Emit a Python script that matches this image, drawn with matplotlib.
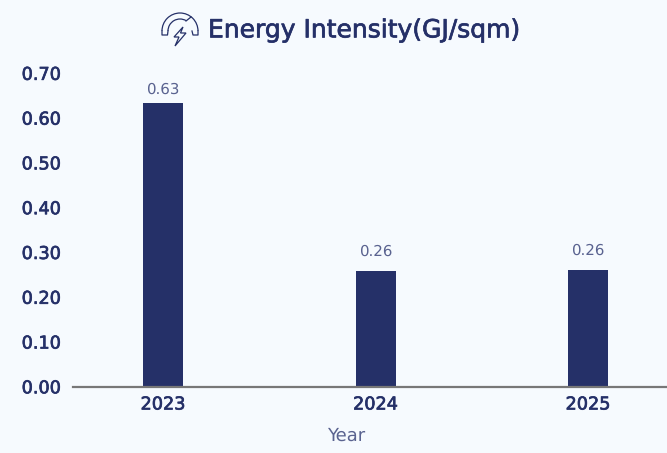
import matplotlib
matplotlib.use("Agg")
import matplotlib.pyplot as plt
import matplotlib.patheffects as pe
from matplotlib.patches import Arc, Polygon

years = ["2023", "2024", "2025"]
intensity = [0.633, 0.258, 0.26]
bar_labels = ["0.63", "0.26", "0.26"]
label_gaps = [4.5, 9, 8.5]
y_ticks = [0.0, 0.1, 0.2, 0.3, 0.4, 0.5, 0.6, 0.7]
title = "Energy Intensity(GJ/sqm)"
x_label = "Year"

NAVY = "#253068"
SOFT = "#5A6390"
BG = "#F6FAFE"
W, H = 667, 453
plt.rcParams["font.family"] = ["DejaVu Sans"]
plt.rcParams["text.hinting"] = "none"
heavy = [pe.withStroke(linewidth=0.5, foreground=NAVY)]

fig = plt.figure(figsize=(W / 100, H / 100), dpi=100, facecolor=BG)
ax = fig.add_axes([73 / W, 1 - 386.5 / H, (W - 73) / W, (386.5 - 73) / H], facecolor=BG)
xs = list(range(len(years)))
ax.bar(xs, intensity, width=40 / 212.5, color=NAVY, zorder=2)
ax.set_xlim(-90 / 212.5, 2 + 79 / 212.5)
ax.set_ylim(0, 0.7)
for s in ["top", "right", "left"]:
    ax.spines[s].set_visible(False)
ax.spines["bottom"].set_color("#777777")
ax.spines["bottom"].set_linewidth(1.6)
ax.spines["bottom"].set_zorder(3)
ax.tick_params(length=0)
ax.set_xticks(xs, years, fontsize=12.7, color=NAVY)
ax.set_yticks(y_ticks, [f"{v:.2f}" for v in y_ticks], fontsize=12.7, color=NAVY)
for t in ax.get_xticklabels() + ax.get_yticklabels():
    t.set_path_effects(heavy)
    t.set_y(t.get_position()[1])
ax.tick_params(axis="x", pad=6.7)
ax.tick_params(axis="y", pad=8.7)
for x, v, lab, gap in zip(xs, intensity, bar_labels, label_gaps):
    ax.annotate(lab, (x, v), xytext=(0, gap), textcoords="offset points", ha="center", va="bottom",
                fontsize=10.8, color=SOFT)
fig.text(346 / W, 1 - 436 / H, x_label, ha="center", va="center", fontsize=13, color=SOFT)
ttl = fig.text(208 / W, 1 - 30.5 / H, title, ha="left", va="center", fontsize=18, color=NAVY)
ttl.set_path_effects(heavy)

# gauge-and-bolt icon in the title, in pixel coordinates
ic = fig.add_axes([0, 0, 1, 1], facecolor="none")
ic.set_xlim(0, W)
ic.set_ylim(H, 0)
ic.axis("off")
lw = 0.9
ic.add_patch(Arc((180, 31), 36, 36, theta1=180, theta2=360, color=NAVY, lw=lw))
ic.add_patch(Arc((180, 31), 24, 24, theta1=180, theta2=300, color=NAVY, lw=lw))
ic.plot([162, 162, 167.5, 168], [31, 35, 35, 31], color=NAVY, lw=lw)
ic.plot([192, 193, 198, 198], [31, 35, 35, 31], color=NAVY, lw=lw)
ic.plot([186, 191], [21, 17], color=NAVY, lw=lw)
ic.add_patch(Polygon([[183, 27], [174, 37], [179, 37], [175, 46], [186, 33], [180.5, 33]],
                     closed=True, fill=False, edgecolor=NAVY, lw=lw))
fig.savefig("out.png", dpi=100, facecolor=BG)
